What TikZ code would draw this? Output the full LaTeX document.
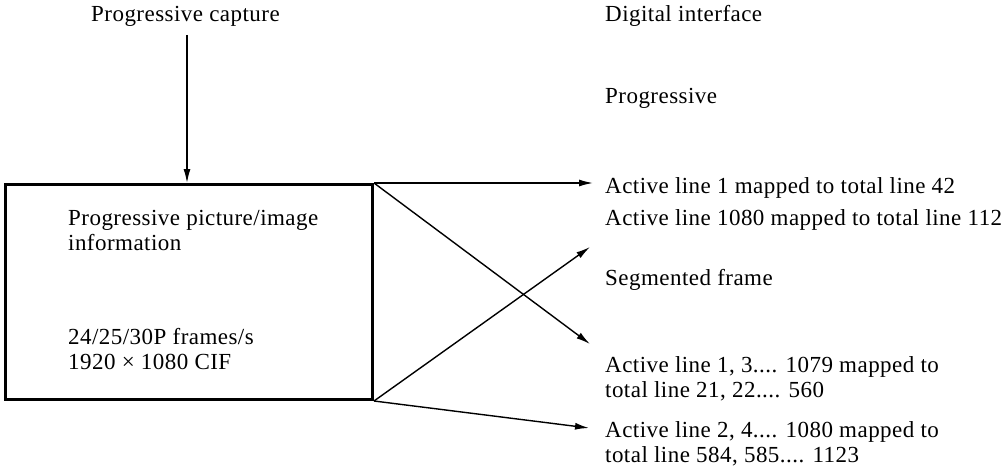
\documentclass[tikz,border=0pt]{standalone}
\usepackage{fontspec}
\setmainfont[LetterSpace=2]{Liberation Serif}
\usetikzlibrary{arrows.meta}
\begin{document}
\begin{tikzpicture}[x=1pt,y=-1pt,
  txt/.style={inner sep=0pt, font=\fontsize{23}{24.5}\selectfont, align=left, anchor=base west},
  arr/.style={line width=1.4pt, -{Latex[length=14pt,width=7pt]}},
  boxst/.style={draw, line width=3pt, minimum width=367pt, minimum height=215pt, inner sep=0pt, anchor=north west}]
\useasboundingbox (0,0) rectangle (1001,468);
\clip (0,0) rectangle (1001,468);
\node[txt] (cap) at (91,22) {Progressive capture};
\node[txt] (dig) at (605,22) {Digital interface};
\node[txt] (prog) at (605,104) {Progressive};
\node[txt] (a1) at (605,193) {Active line 1 mapped to total line 42};
\node[txt] (a2) at (605,225) {Active line 1080 mapped to total line 1123};
\node[txt] (seg) at (605,285) {Segmented frame};
\node[txt] (s1) at (605,397) {Active line 1, 3.... 1079 mapped to\\total line 21, 22.... 560};
\node[txt] (s2) at (605,462) {Active line 2, 4.... 1080 mapped to\\total line 584, 585.... 1123};
\node[boxst] (box) at (4,183) {};
\node[txt] (b1) at (68,250) {Progressive picture/image\\information};
\node[txt] (b2) at (68,369) {24/25/30P frames/s\\1920 × 1080 CIF};
\coordinate (t1) at (593,183);
\coordinate (t2) at (590,247);
\coordinate (t3) at (590,344);
\coordinate (t4) at (589,428);
\coordinate (top) at (187,35);
\draw[arr] (top) -- (top |- box.north);
\draw[arr] (box.north east) -- (t1);
\draw[arr] (box.north east) -- (t3);
\draw[arr] (box.south east) -- (t2);
\draw[arr] (box.south east) -- (t4);
\end{tikzpicture}
\end{document}
